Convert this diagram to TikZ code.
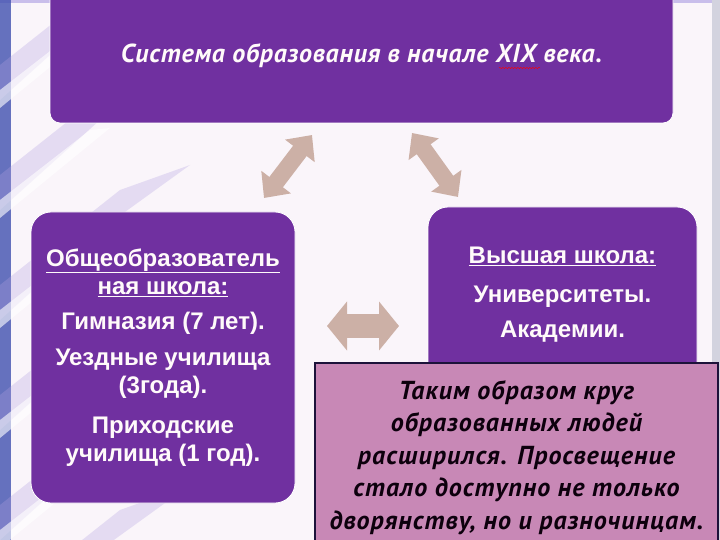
\documentclass[tikz,border=0pt]{standalone}
\usepackage{fontspec}
\setmainfont{Liberation Sans}
\newfontfamily\ptsans{PT Sans}
\usetikzlibrary{arrows.meta,decorations.pathmorphing}
\definecolor{boxviolet}{RGB}{112,48,160}
\definecolor{arrowtan}{RGB}{204,176,166}
\definecolor{notepink}{RGB}{200,136,182}
\definecolor{noteedge}{RGB}{28,18,58}
\definecolor{streak}{RGB}{178,162,226}
\definecolor{edgeblue}{RGB}{64,80,176}
\tikzset{
  schoolbox/.style={fill=boxviolet, draw=white, line width=0.8pt, rounded corners=20pt,
    text=white!92!pink, font=\bfseries\fontsize{24}{28}\selectfont, align=center, inner sep=0pt},
  linkarrow/.style={draw=arrowtan, line width=17pt,
    {Triangle[length=20pt,width=36pt]}-{Triangle[length=20pt,width=36pt]}},
}

\begin{document}
\begin{tikzpicture}[x=1pt,y=-1pt]
    \useasboundingbox (0,0) rectangle (720,540);
    \fill[white!96!violet] (0,0) rectangle (720,540);
    \fill[streak!70] (0,0) rectangle (720,3);
    \fill[blue!15!gray!30] (712,0) rectangle (720,540);
    \fill[edgeblue,opacity=0.8] (0,0) rectangle (11,540);
    \foreach \y in {40,150,260,370,480,580}
      \fill[streak,opacity=0.3] (0,\y+60) -- (0,\y+25) -- (120,\y-70) -- (190,\y-95) -- (100,\y-30) -- cycle;
    \foreach \y in {90,200,310,420,530}
      \fill[white,opacity=0.6] (0,\y+18) -- (0,\y) -- (90,\y-70) -- (110,\y-72) -- cycle;

    \node[schoolbox, rounded corners=10pt, minimum width=623pt, minimum height=135pt,
      font=\ptsans\bfseries\itshape\fontsize{26}{30}\selectfont\addfontfeature{LetterSpace=3}] (sys) at (361.5,55.5)
      {Система образования в начале XIX века.};
    \draw[red, decorate, decoration={snake, amplitude=0.7pt, segment length=3pt}] (499,68) -- (540,68);
    \node[schoolbox, minimum width=264pt, minimum height=291pt] (gen) at (163,357.5)
      {\underline{Общеобразователь}\\\underline{ная школа:}\\[7pt]
       Гимназия (7 лет).\\[8pt]
       Уездные училища\\(3года).\\[12pt]
       Приходские\\училища (1 год).};
    \node[schoolbox, minimum width=269pt, minimum height=176pt] (high) at (562.5,295)
      {\underline{Высшая школа:}\\[11pt]Университеты.\\[7pt]Академии.};
    \node[fill=notepink, draw=noteedge, line width=2pt, minimum width=403pt, minimum height=189pt,
      inner sep=0pt, align=center, text=black!90!violet,
      font=\ptsans\bfseries\itshape\fontsize{26}{32.5}\selectfont\addfontfeature{LetterSpace=4}] (sum) at (516.5,457.5)
      {Таким образом круг\\образованных людей\\расширился. Просвещение\\стало доступно не только\\дворянству, но и разночинцам.};

    \coordinate (gl1) at (264,198);
    \coordinate (gl2) at (312,135);
    \coordinate (hs1) at (412,133);
    \coordinate (hs2) at (458,197);
    \coordinate (mid1) at (327,326);
    \coordinate (mid2) at (399,326);
    \draw[linkarrow] (gl1) -- (gl2);
    \draw[linkarrow] (hs1) -- (hs2);
    \draw[linkarrow, line width=24pt, {Triangle[length=20pt,width=48pt]}-{Triangle[length=20pt,width=48pt]}] (mid1) -- (mid2);
\end{tikzpicture}
\end{document}
